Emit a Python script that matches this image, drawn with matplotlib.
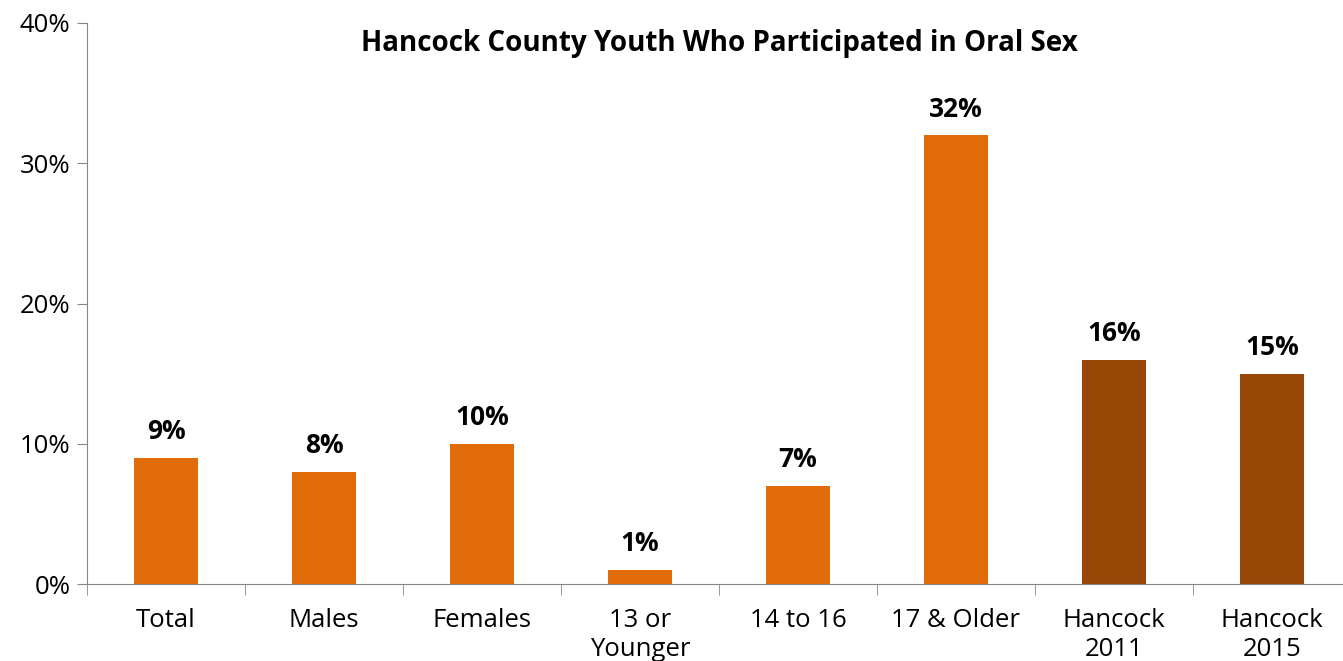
import matplotlib.pyplot as plt
import numpy as np

categories = ["Total", "Males", "Females", "13 or\nYounger", "14 to 16",
              "17 & Older", "Hancock\n2011", "Hancock\n2015"]
values = [9, 8, 10, 1, 7, 32, 16, 15]
bar_colors = ["#E36C0A"] * 6 + ["#974806"] * 2

plt.rcParams["font.family"] = ["Open Sans", "DejaVu Sans"]

fig = plt.figure(figsize=(13.43, 6.61), dpi=100)
ax = fig.add_axes([87 / 1343, 1 - 584 / 661, 1264 / 1343, 561 / 661])

x = np.arange(len(categories))
ax.bar(x, values, width=0.4, color=bar_colors)

for xi, v in zip(x, values):
    ax.annotate(f"{v}%", (xi, v), xytext=(0, 9), textcoords="offset points",
                ha="center", va="bottom", fontsize=19, fontweight="bold")

ax.set_xlim(-0.5, len(categories) - 0.5)
ax.set_ylim(0, 40)
ax.set_yticks([0, 10, 20, 30, 40])
ax.set_yticklabels([f"{t}%" for t in [0, 10, 20, 30, 40]])

ax.set_xticks(x)
ax.set_xticklabels(categories, linespacing=1.25)
ax.set_xticks(np.arange(-0.5, len(categories), 1), minor=True)
ax.tick_params(axis="x", which="major", length=0, pad=17, labelsize=18.5)
ax.tick_params(axis="x", which="minor", length=8, color="#868686")
ax.tick_params(axis="y", length=7, color="#868686", labelsize=18.5, pad=5)

for s in ["top", "right"]:
    ax.spines[s].set_visible(False)
for s in ["left", "bottom"]:
    ax.spines[s].set_color("#868686")

ax.text(0.5, 0.963, "Hancock County Youth Who Participated in Oral Sex",
        transform=ax.transAxes, ha="center", va="center",
        fontsize=20, fontweight="bold")

fig.savefig("out.png", dpi=100)
